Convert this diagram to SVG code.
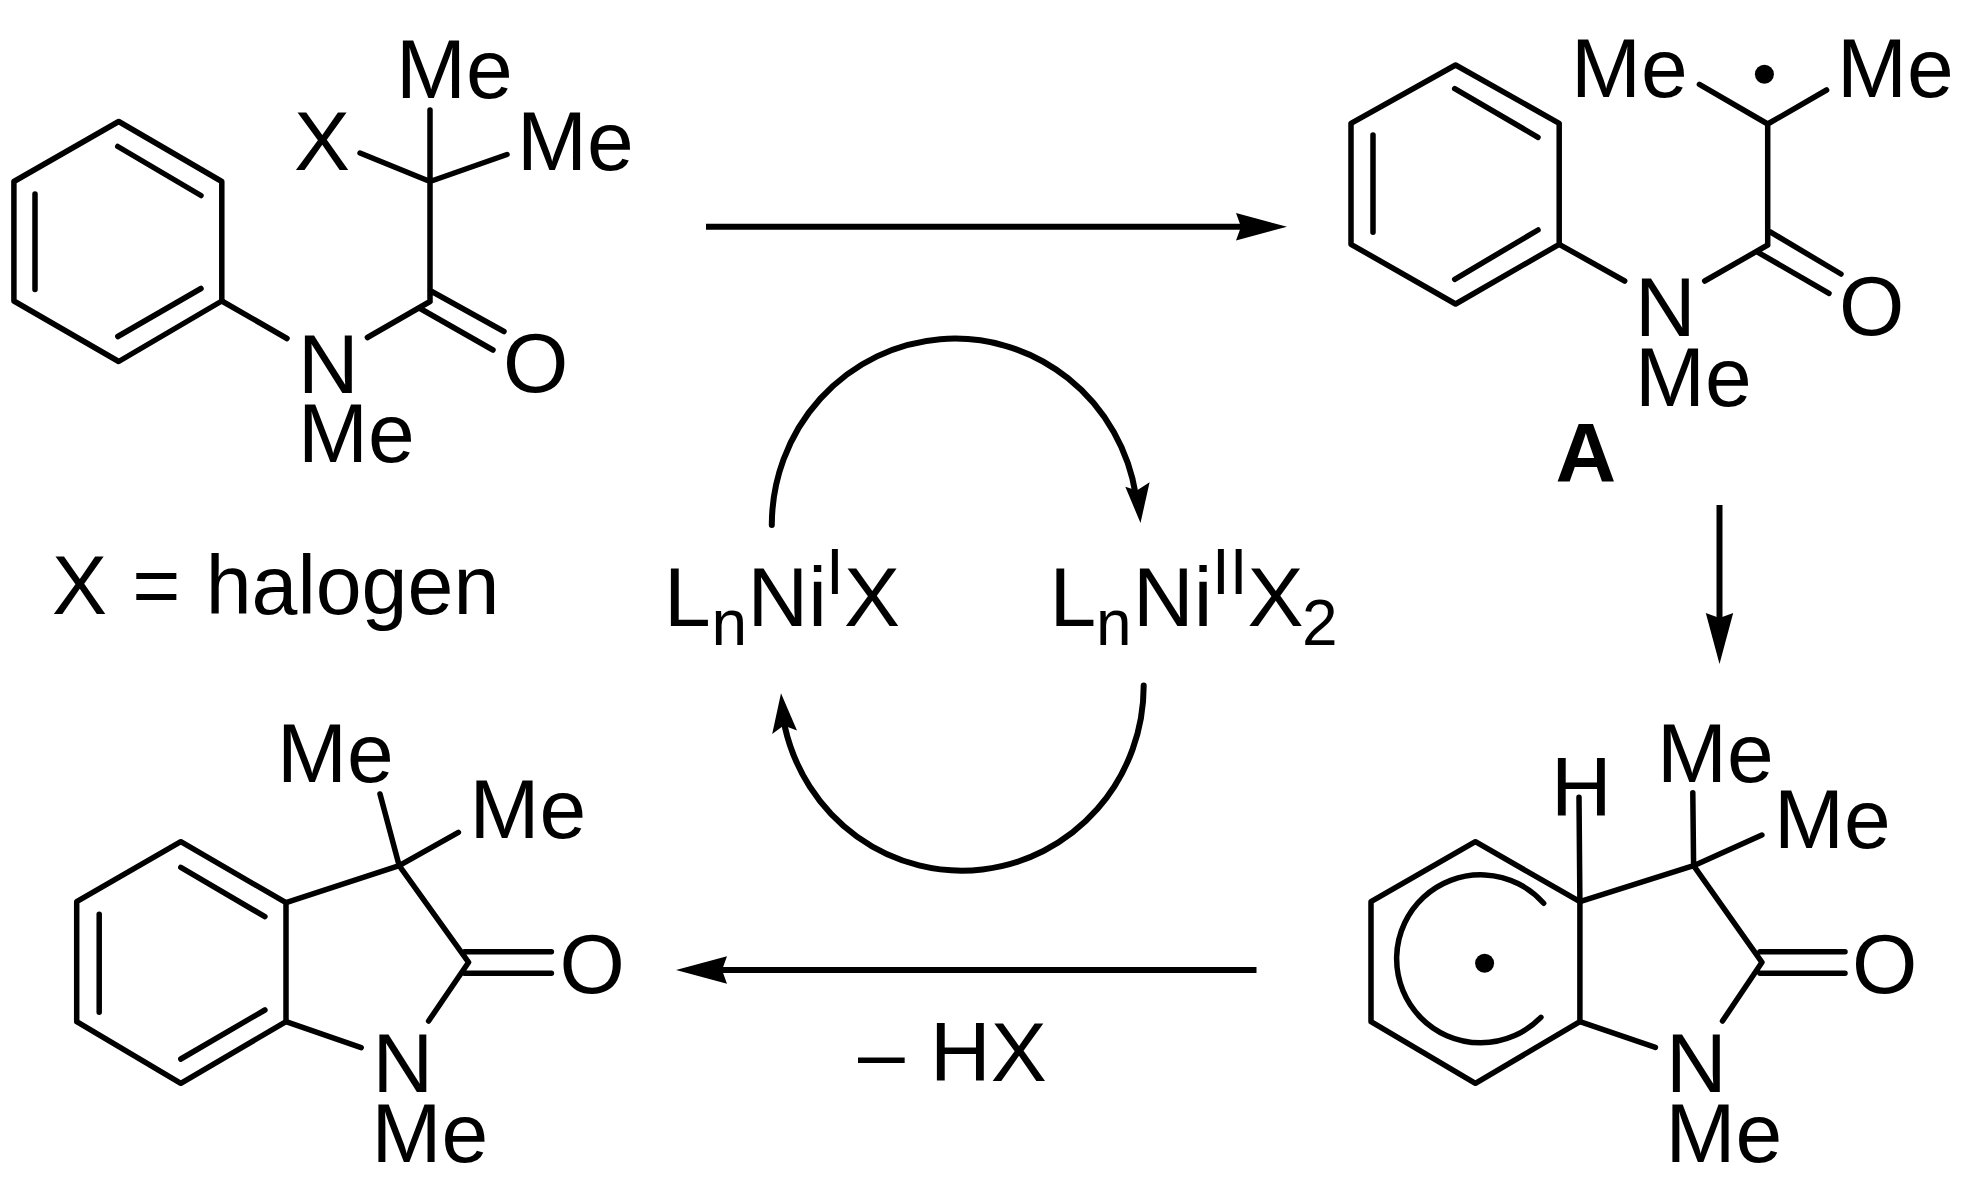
<svg xmlns="http://www.w3.org/2000/svg" width="1970" height="1199" viewBox="0 0 1970 1199">
<style>
.b{fill:none;stroke:#000;stroke-width:5.5;stroke-linecap:round;stroke-linejoin:round}
.c{fill:none;stroke:#000;stroke-width:6}
.r{stroke-linecap:round}
.h{fill:#000}
text{font-family:"Liberation Sans",Arial,sans-serif;font-size:84px;fill:#000}
.s{font-size:64px}
.bd{font-weight:bold}
</style>
<defs>
<marker id="ah" markerUnits="userSpaceOnUse" markerWidth="70" markerHeight="40" refX="11" refY="14" orient="auto" overflow="visible"><path d="M0,0.3L51,14L0,27.7L5,14Z" fill="#000"/></marker>
</defs>
<rect width="1970" height="1199" fill="#fff"/>
<g id="reactant">
<path class="b" d="M118.7,121.5L221.8,181.5V301L118.7,361.5L13.9,301V181.5Z"/>
<path class="b" d="M117.8,146.5L201,195.5M201,288.5L117.8,336.5M35,194V289.5M221.8,301L287,338.5M367.4,337.5L430,301.5M430,290.5L504,331.5M421,309L493,350M430,301.5V110M360,153L430,181.5L507,154.5"/>
<text x="396" y="98">Me</text><text x="294" y="169.5">X</text><text x="517" y="169.5">Me</text><text x="298" y="392.7">N</text><text x="503" y="392">O</text><text x="298" y="462">Me</text>
</g>
<g id="x-note"><text x="52" y="614" style="font-size:82.5px" word-spacing="2.3">X = halogen</text></g>
<g id="radical-A">
<path class="b" d="M1455.6,65L1559.2,123.3V244.3L1455.6,304L1351,244.3V123.3Z"/>
<path class="b" d="M1454.7,88.7L1538,137.3M1538,230L1454.7,279.3M1373,135V232.3M1559.2,244.3L1624.7,281M1704.7,281L1767.7,245M1769.8,231.7L1841,274M1758,252.3L1829,293.3M1767.7,245V124M1699.4,84.3L1767.7,124L1826.6,90"/>
<circle cx="1764.4" cy="74.3" r="9.5"/>
<text x="1571" y="96.7">Me</text><text x="1837" y="96.7">Me</text><text x="1635" y="335.7">N</text><text x="1839" y="334.5">O</text><text x="1635" y="405.7">Me</text><text class="bd" x="1555.5" y="481.7">A</text>
</g>
<g id="cyclohexadienyl">
<path class="b" d="M1475.4,841.7L1579.9,901.7V1021.7L1475.4,1083.3L1371,1021.7V901.7Z"/>
<path class="b" d="M1579.9,901.7L1579,797.3M1543.7,903.3A84,84 0 1 0 1540.9,1017.3M1579.9,901.7L1693.6,865.7L1692.8,792.7M1693.6,865.7L1761.9,835M1693.6,865.7L1762,962.3L1722.5,1021M1760,951.7H1845M1760,973.3H1845M1579.9,1021.7L1655.4,1047.3"/>
<circle cx="1484.6" cy="963.3" r="9.5"/>
<text x="1551" y="815.7">H</text><text x="1657" y="781.7">Me</text><text x="1774" y="847.7">Me</text><text x="1852" y="993">O</text><text x="1666" y="1091.7">N</text><text x="1665.5" y="1161.7">Me</text>
</g>
<g id="oxindole">
<path class="b" d="M180.8,841.7L286,902.7V1021.7L180.8,1083.3L76.7,1021.7V901.7Z"/>
<path class="b" d="M180.8,867.3L264.9,916.7M264.9,1010L180.8,1059M99.2,914.3V1012.3M286,902.7L399.2,865.7L380,794M399.2,865.7L458.4,832.3M399.2,865.7L468.6,962.3L428.6,1021M464.5,951.7H551.4M464.5,973.3H551.4M286,1021.7L361.2,1047.7"/>
<text x="277" y="782.3">Me</text><text x="469.5" y="838.3">Me</text><text x="559.5" y="993">O</text><text x="372.5" y="1091.7">N</text><text x="371.5" y="1161.7">Me</text>
</g>
<g id="ni1"><text x="664" y="625.6">L</text><text class="s" x="711.6" y="645">n</text><text x="747.5" y="625.6">Ni</text><text class="s" x="826" y="594">I</text><text x="844" y="625.6">X</text></g>
<g id="ni3"><text x="1049.5" y="625.6">L</text><text class="s" x="1096" y="645">n</text><text x="1133" y="625.6">Ni</text><text class="s" x="1212" y="594">II</text><text x="1247.5" y="625.6">X</text><text class="s" x="1302" y="645">2</text></g>
<g id="hx"><text x="858" y="1080.7" word-spacing="2">– HX</text></g>
<g id="connectors">
<path class="c" d="M706,226.7H1247" marker-end="url(#ah)"/>
<path class="c" d="M1719.5,505V624" marker-end="url(#ah)"/>
<path class="c" d="M1256.5,970H716" marker-end="url(#ah)"/>
<path class="c r" d="M771.8,525A183.2,186.5 0 0 1 1135.8,495"/>
<path class="h" d="M1140.5,523L1125.3,486.7L1136.8,490.4L1149.6,482.2Z"/>
<path class="c r" d="M1143.7,685.6A181.7,185 0 0 1 784.9,727"/>
<path class="h" d="M781,693.3L772.2,734L783.7,725.6L797,730.4Z"/>
</g>
</svg>
